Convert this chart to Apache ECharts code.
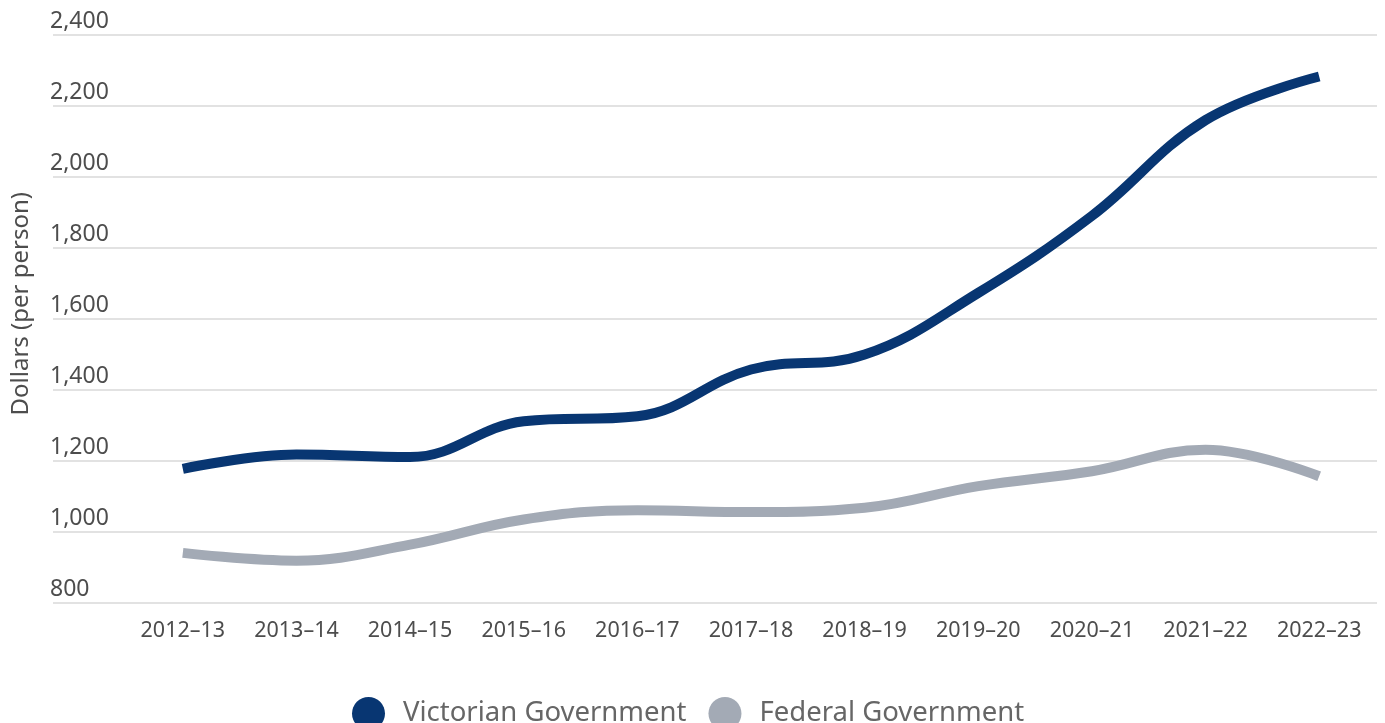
<!DOCTYPE html>
<html>
<head>
<meta charset="utf-8">
<script src="https://cdn.jsdelivr.net/npm/echarts@6/dist/echarts.min.js"></script>
<style>
html,body{margin:0;padding:0;background:#fff;}
#chart{width:1385px;height:723px;}
</style>
</head>
<body>
<div id="chart"></div>
<script>
const categories = ['2012–13','2013–14','2014–15','2015–16','2016–17','2017–18','2018–19','2019–20','2020–21','2021–22','2022–23'];
const victorian = [1177, 1217, 1210, 1311, 1325, 1457, 1499, 1673, 1890, 2160, 2283];
const federal = [940, 918, 963, 1034, 1060, 1055, 1067, 1128, 1170, 1231, 1156];
const seriesNames = ['Victorian Government', 'Federal Government'];
const yTicks = {min: 800, max: 2400, interval: 200};

const chart = echarts.init(document.getElementById('chart'));
const font = 'Noto Sans';
chart.setOption({
  animation: false,
  textStyle: {fontFamily: font},
  grid: [
    {left: 53, right: 8, top: 35, height: 567.5},
    {left: 126, right: 9, top: 35, height: 567.5}
  ],
  legend: {
    top: 692,
    left: 347,
    icon: 'circle',
    itemWidth: 33,
    itemHeight: 33,
    itemGap: 22,
    data: seriesNames,
    textStyle: {fontFamily: font, fontSize: 27.5, color: '#666', padding: [0, 0, 0, 13]}
  },
  xAxis: [
    {gridIndex: 0, type: 'value', show: false},
    {
      gridIndex: 1, type: 'category', data: categories, boundaryGap: true,
      axisLine: {show: false}, axisTick: {show: false},
      axisLabel: {margin: 17, fontSize: 21.5, color: '#4d4d4d', fontFamily: font}
    }
  ],
  yAxis: [
    {
      gridIndex: 0, type: 'value', min: yTicks.min, max: yTicks.max, interval: yTicks.interval,
      axisLine: {show: false}, axisTick: {show: false},
      splitLine: {lineStyle: {color: '#d9d9d9', width: 1.5}},
      axisLabel: {
        inside: true, margin: -3, verticalAlign: 'bottom', fontSize: 23, color: '#4d4d4d', fontFamily: font,
        padding: [0, 0, 2, 0],
        formatter: v => v.toLocaleString('en-US')
      },
      name: 'Dollars (per person)', nameLocation: 'middle', nameRotate: 90, nameGap: 20,
      nameTextStyle: {fontSize: 24, color: '#4d4d4d', fontFamily: font, padding: [0, 0, 0, 30]}
    },
    {gridIndex: 1, type: 'value', min: yTicks.min, max: yTicks.max, interval: yTicks.interval, show: false, splitLine: {show: false}}
  ],
  series: [
    {
      name: seriesNames[0], type: 'line', xAxisIndex: 1, yAxisIndex: 1, data: victorian,
      smooth: 0.4, symbol: 'none', lineStyle: {color: '#083672', width: 10}, itemStyle: {color: '#083672'}
    },
    {
      name: seriesNames[1], type: 'line', xAxisIndex: 1, yAxisIndex: 1, data: federal,
      smooth: 0.4, symbol: 'none', lineStyle: {color: '#a3aab5', width: 10}, itemStyle: {color: '#a3aab5'}
    }
  ]
});
</script>
</body>
</html>
